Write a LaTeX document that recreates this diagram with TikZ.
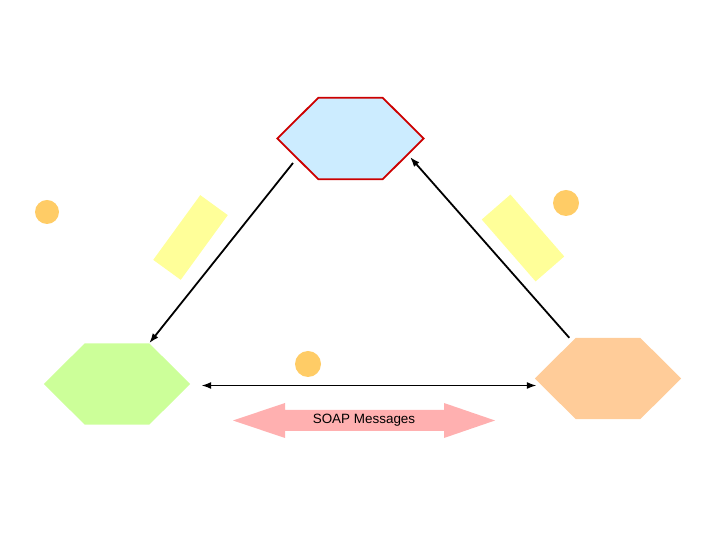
\documentclass[tikz,border=0pt]{standalone}
\usepackage{fontspec}
\setmainfont{Liberation Sans}
\usetikzlibrary{arrows.meta}
\usetikzlibrary{positioning}
\definecolor{regfill}{HTML}{CCECFF}
\definecolor{regline}{HTML}{CC0000}
\definecolor{reqfill}{HTML}{CCFF99}
\definecolor{provfill}{HTML}{FFCC99}
\definecolor{dotfill}{HTML}{FFCC66}
\definecolor{notefill}{HTML}{FFFF99}
\definecolor{soapfill}{HTML}{FFB0B0}
\tikzset{
  hexnode/.style={rectangle, inner sep=0pt, minimum width=146bp, minimum height=81bp},
  reghex/.style={fill=regfill, draw=regline, line width=1.8bp, line join=miter},
  reqhex/.style={fill=reqfill},
  provhex/.style={fill=provfill},
  dot/.style={circle, fill=dotfill, inner sep=0pt, minimum size=#1},
  note/.style={rectangle, fill=notefill, inner sep=0pt},
  link/.style={line width=1.8bp, -{Latex[length=10bp,width=7bp]}},
  soapshape/.style={fill=soapfill}
}

\begin{document}
\begin{tikzpicture}[x=1bp, y=1bp, every node/.style={font=\fontsize{13.5}{16}\selectfont}]
  \useasboundingbox (0,0) rectangle (720,540);

  % the three parties
  \node[hexnode] (registry) at (350.5,401.5) {};
  \node[hexnode] (requester) at (117,156) {};
  \node[hexnode] (provider) at (608,161.5) {};

  \foreach \h/\s in {registry/reghex, requester/reqhex, provider/provhex}
    \path[\s] (\h.west) -- ([xshift=41bp]\h.north west) -- ([xshift=-41bp]\h.north east)
      -- (\h.east) -- ([xshift=-41bp]\h.south east) -- ([xshift=41bp]\h.south west) -- cycle;

  % small markers
  \node[dot=24bp] (dotleft) at (47,328) {};
  \node[dot=26bp] (dotright) at (566,337) {};
  \node[dot=26bp] (dotmid) at (308,176) {};

  % slanted notes
  \node[note, minimum width=34bp, minimum height=80bp, rotate=-36] (findnote) at (190.5,302.5) {};
  \node[note, minimum width=38bp, minimum height=82bp, rotate=41] (pubnote) at (523,302) {};

  % connectors
  \draw[link] ([shift={(-57.5,-24.5)}]registry.center) -- ([xshift=-41bp]requester.north east);
  \draw[link] ([xshift=34.5bp]provider.north west) -- ([shift={(59.5,-18.5)}]registry.center);
  \draw[link, {Latex[length=10bp,width=7bp]}-{Latex[length=10bp,width=7bp]}]
    ([xshift=11bp,yshift=-1.5bp]requester.east) -- ([xshift=2bp,yshift=-1.5bp]requester.east -| provider.west);

  % message arrow
  \fill[soapshape] (233,119.5) -- (285,137) -- (285,130) -- (444,130) -- (444,137) -- (495,119.5)
    -- (444,102) -- (444,109) -- (285,109) -- (285,102) -- cycle;
  \node (soap) at (364,119.5) {SOAP Messages};

\end{tikzpicture}
\end{document}
